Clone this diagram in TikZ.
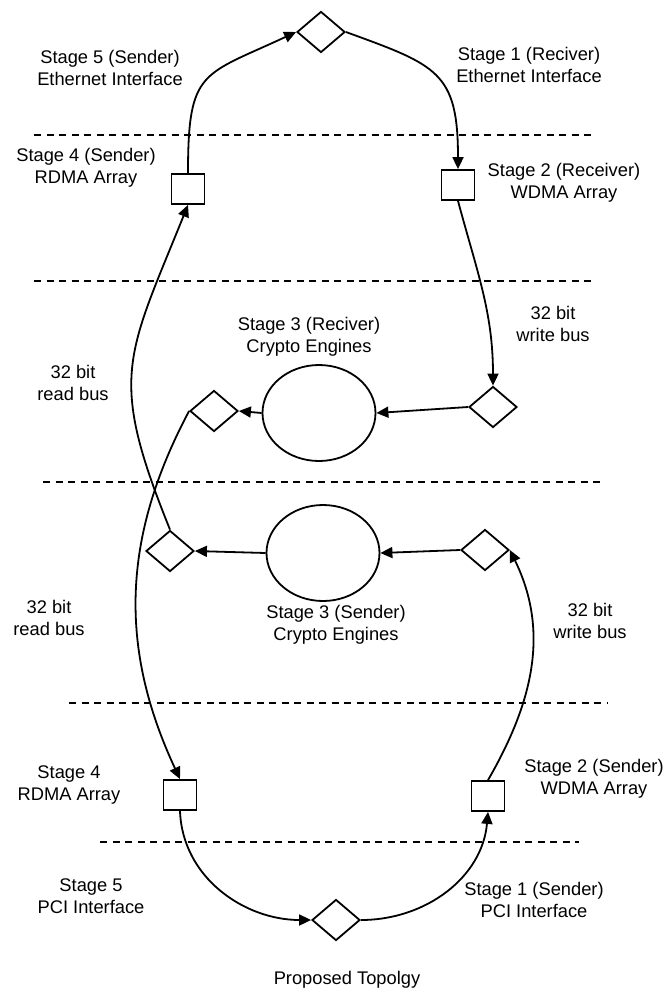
\documentclass[tikz,border=0pt]{standalone}
\usepackage{fontspec}
\setmainfont{Liberation Sans}
\usetikzlibrary{shapes.geometric,arrows.meta}

\begin{document}
\begin{tikzpicture}[
      x=1pt, y=-1pt, line width=1.8pt, >={Triangle[length=12pt,width=11pt]},
      font=\fontsize{18.3}{22}\selectfont,
      blk/.style={draw,rectangle,minimum width=33pt,minimum height=30pt,inner sep=0pt},
      dmd/.style={draw,diamond,minimum width=48pt,minimum height=41pt,inner sep=0pt},
      eng/.style={draw,ellipse,minimum width=113pt,minimum height=96pt,inner sep=0pt},
      lbl/.style={align=center,inner sep=0pt},
      sep/.style={line width=1.6pt,dash pattern=on 7pt off 5.5pt}
  ]
      \useasboundingbox (0,0) rectangle (666,996);

      % 구분선
      \foreach \y/\a/\b in {135/34/592, 281/34/592, 482/43/601, 703/69/607, 842/100/579}
        \draw[sep] (\a,\y) -- (\b,\y);

      % 좌표 배치
      \node[dmd] (dtop)  at (321,32)  {};
      \node[blk] (rdmas) at (188,189) {};
      \node[blk] (wdmar) at (458,185) {};
      \node[dmd] (dwr)   at (493,407) {};
      \node[eng] (cr)    at (319,413) {};
      \node[dmd] (drr)   at (214,411) {};
      \node[dmd] (drs)   at (170,551) {};
      \node[eng] (cs)    at (323,553) {};
      \node[dmd] (dws)   at (485,550) {};
      \node[blk] (rdma)  at (180,795) {};
      \node[blk] (wdmas) at (488,796) {};
      \node[dmd] (dbot)  at (336,920) {};

      % 글자
      \node[lbl] (t5s) at (110,68)  {Stage 5 (Sender)\\Ethernet Interface};
      \node[lbl] (t1r) at (529,65)  {Stage 1 (Reciver)\\Ethernet Interface};
      \node[lbl] (t4s) at (86,168)  {Stage 4 (Sender)\\RDMA Array};
      \node[lbl] (t2r) at (564,183) {Stage 2 (Receiver)\\WDMA Array};
      \node[lbl] (wbr) at (553,324) {32 bit\\write bus};
      \node[lbl] (t3r) at (309,337) {Stage 3 (Reciver)\\Crypto Engines};
      \node[lbl] (rbr) at (73,383)  {32 bit\\read bus};
      \node[lbl] (rbs) at (49,618)  {32 bit\\read bus};
      \node[lbl] (t3s) at (336,625) {Stage 3 (Sender)\\Crypto Engines};
      \node[lbl] (wbs) at (590,621) {32 bit\\write bus};
      \node[lbl] (t4)  at (69,785)  {Stage 4\\RDMA Array};
      \node[lbl] (t2s) at (594,779) {Stage 2 (Sender)\\WDMA Array};
      \node[lbl] (t5)  at (91,896)  {Stage 5\\PCI Interface};
      \node[lbl] (t1s) at (534,900) {Stage 1 (Sender)\\PCI Interface};
      \node[lbl] (cap) at (347,980) {Proposed Topolgy};

      % 연결
      \draw[->] (rdmas.north) to[out=90,in=205,looseness=1.5] (dtop.west);
      \draw[->] (dtop.east) to[out=-20,in=90,looseness=1.4] (wdmar.north);
      \draw[->] (wdmar.south) to[out=-75,in=90] (dwr.north);
      \draw[->] (dwr.west) -- (cr.east);
      \draw[->] (cr.west) -- (drr.east);
      \draw[->] (drr.west) to[out=-118,in=115] (rdma.north);
      \draw[->] (dws.west) -- (cs.east);
      \draw[->] (cs.west) -- (drs.east);
      \draw[->] (drs.north) to[out=112,in=-112,looseness=1.3] (rdmas.south);
      \draw[->] (rdma.south) to[out=-88,in=180] (dbot.west);
      \draw[->] (dbot.east) to[out=0,in=-95] (wdmas.south);
      \draw[->] (wdmas.north) to[out=60,in=-64] (dws.east);
  \end{tikzpicture}
\end{document}
